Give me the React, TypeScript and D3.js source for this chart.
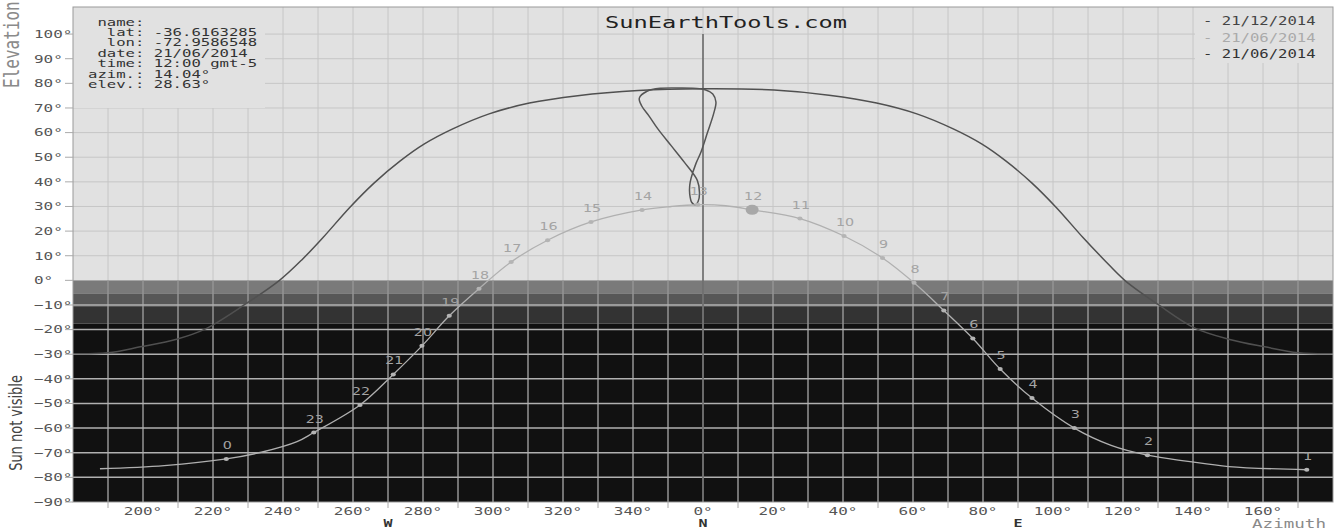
import * as d3 from 'd3'

type P = [number, number] // [azimuth relative to north (W negative), elevation]

// 21/12/2014 sun path
const decPath: P[] = [
  [-180, -29.8], [-170, -29.4], [-160.8, -27], [-150.4, -23.9], [-142.3, -19.8], [-130.8, -9.7],
  [-121, 0], [-114.5, 8.5], [-108.5, 17.5], [-101, 29.5], [-94, 39.5], [-86.5, 48.5], [-79.6, 55.4],
  [-71.5, 61.5], [-61.1, 67.6], [-49.6, 72], [-35.8, 75], [-18.5, 77.1], [0, 77.8], [20.3, 77.3],
  [36, 75.2], [49.6, 72], [61.1, 67.6], [71.5, 61.5], [79.6, 55.4], [86.5, 48.5], [94, 39.5],
  [101, 29.5], [108.5, 17.5], [114.5, 8.5], [120.5, 0], [130, -9.8], [140.4, -19.3], [150.5, -24],
  [160.5, -27], [170, -29.4], [180, -29.8]
]

// 21/06/2014 hourly sun positions
const hourLabels = ['0', '23', '22', '21', '20', '19', '18', '17', '16', '15', '14', '13',
  '12', '11', '10', '9', '8', '7', '6', '5', '4', '3', '2', '1']
const hourAz = [-136.2, -111.2, -98.0, -88.5, -80.3, -72.5, -64.0, -54.8, -44.4, -32.0, -17.4, -1.5,
  14.04, 27.7, 40.3, 51.3, 60.3, 68.8, 77.1, 84.9, 94.0, 106.1, 127.0, 172.5]
const hourEl = [-72.5, -61.8, -50.6, -38.2, -26.6, -14.4, -3.4, 7.5, 16.3, 23.7, 28.6, 30.7,
  28.63, 25.1, 18.0, 9.1, -1.0, -12.2, -23.6, -36.0, -47.8, -60.0, -71.0, -76.9]
// points read along the june line between the hour markers
const juneBetween: P[] = [
  [-172.3, -76.5], [-153.9, -75.2], [-126.2, -69.8], [-116, -65.5], [-9, 30.0], [6.5, 30.3],
  [116.6, -67.0], [138.6, -73.5], [150.2, -75.6]
]
const currentHour = '12'

// analemma (figure eight)
const analemma: P[] = [
  [-1, 77.8], [-6, 78.1], [-12, 78], [-16, 76.8], [-18.2, 74], [-17.5, 70.8], [-15.3, 66.5],
  [-12.9, 61.5], [-9.1, 54.7], [-5.3, 47.9], [-1.6, 40.5], [-1.0, 35.5], [-1.4, 32], [-2.2, 30.6],
  [-3.2, 31.6], [-3.8, 35], [-3.8, 38.5], [-3.4, 41.5], [-2.0, 47.5], [-0.6, 52], [1.3, 60.1],
  [3.0, 67.5], [3.7, 72.4], [2.8, 75.7], [0.8, 77.3]
]

const xTickAz = [-160, -140, -120, -100, -80, -60, -40, -20, 0, 20, 40, 60, 80, 100, 120, 140, 160]
const xTickLabels = ['200°', '220°', '240°', '260°', '280°', '300°', '320°', '340°', '0°',
  '20°', '40°', '60°', '80°', '100°', '120°', '140°', '160°']
const yTickValues = [-90, -80, -70, -60, -50, -40, -30, -20, -10, 0, 10, 20, 30, 40, 50, 60, 70, 80, 90, 100]
const yTickLabels = ['−90°', '−80°', '−70°', '−60°', '−50°', '−40°', '−30°', '−20°', '−10°', '0°',
  '10°', '20°', '30°', '40°', '50°', '60°', '70°', '80°', '90°', '100°']
const compass = [{ az: -90, label: 'W' }, { az: 0, label: 'N' }, { az: 90, label: 'E' }]

const infoLines = [' name:', '  lat: -36.6163285', '  lon: -72.9586548', ' date: 21/06/2014',
  ' time: 12:00 gmt-5', 'azim.: 14.04°', 'elev.: 28.63°']
const legendLabels = ['- 21/12/2014', '- 21/06/2014', '- 21/06/2014']
const legendColors = ['#444', '#aaa', '#333']

const MONO = "'DejaVu Sans Mono', monospace"
const SANS = "'DejaVu Sans', sans-serif"
const SX = 1.3 // the picture is stretched sideways

const bandEdges = [0, -5.5, -10.5, -17.5, -90]
const bandColors = ['#7a7a7a', '#575757', '#333333', '#111111']

export default function App() {
  const x = d3.scaleLinear().domain([-180, 180]).range([73, 1333])
  const y = d3.scaleLinear().domain([-90, 111]).range([502, 7])
  const top = 111

  const line = d3.line<P>().x(d => x(d[0])).y(d => y(d[1])).curve(d3.curveCatmullRom.alpha(0.5))
  const loop = d3.line<P>().x(d => x(d[0])).y(d => y(d[1])).curve(d3.curveCatmullRomClosed.alpha(0.5))

  const hours = hourLabels.map((h, i) => ({ h, az: hourAz[i], el: hourEl[i] }))
  const juneLine: P[] = [...hours.map(d => [d.az, d.el] as P), ...juneBetween].sort((a, b) => a[0] - b[0])

  const gridAz = d3.range(-170, 180, 10)
  const oddAz = d3.range(-170, 180, 20)

  return (
    <svg width={1336} height={531} style={{ position: 'absolute', left: 0, top: 0, background: '#fff' }}>
      <defs>
        <clipPath id="plot">
          <rect x={x(-180)} y={y(top)} width={x(180) - x(-180)} height={y(-90) - y(top)} />
        </clipPath>
      </defs>

      {/* sky and twilight bands */}
      <rect x={x(-180)} y={y(top)} width={x(180) - x(-180)} height={y(0) - y(top)} fill="#e1e1e1" />
      {bandColors.map((c, i) => (
        <rect key={i} x={x(-180)} y={y(bandEdges[i])} width={x(180) - x(-180)}
          height={y(bandEdges[i + 1]) - y(bandEdges[i])} fill={c} />
      ))}

      {/* grid, day side */}
      {gridAz.map(a => (
        <line key={'vl' + a} x1={x(a)} x2={x(a)} y1={y(top)} y2={y(0)} stroke="#c6c6c6" />
      ))}
      {d3.range(10, 101, 10).map(v => (
        <line key={'hl' + v} x1={x(-180)} x2={x(180)} y1={y(v)} y2={y(v)} stroke="#c6c6c6" />
      ))}
      {/* grid, night side */}
      {gridAz.map(a => (
        <line key={'vd' + a} x1={x(a)} x2={x(a)} y1={y(0)} y2={y(-90)} stroke="#959595" strokeWidth={1.5} />
      ))}
      {d3.range(-80, 0, 10).map(v => (
        <line key={'hd' + v} x1={x(-180)} x2={x(180)} y1={y(v)} y2={y(v)} stroke="#b0b0b0" strokeWidth={1.5} />
      ))}

      {/* north line */}
      <line x1={x(0)} x2={x(0)} y1={y(100)} y2={y(-90)} stroke="#6a6a6a" strokeWidth={1.6} />

      <g clipPath="url(#plot)" fill="none">
        <path d={line(decPath) || ''} stroke="#505050" strokeWidth={1.5} />
        <path d={loop(analemma) || ''} stroke="#555" strokeWidth={1.5} />
        <path d={line(juneLine) || ''} stroke="#b0b0b0" strokeWidth={1.3} />
      </g>

      {/* hour markers */}
      {hours.map(d => (
        <g key={'h' + d.h}>
          {d.h === currentHour
            ? <ellipse cx={x(d.az)} cy={y(d.el)} rx={6.5} ry={5} fill="#a8a8a8" />
            : <ellipse cx={x(d.az)} cy={y(d.el)} rx={2.6} ry={2} fill="#b4b4b4" />}
          <text transform={`translate(${x(d.az) + 1},${y(d.el) - 10}) scale(${SX},1)`}
            textAnchor="middle" fontFamily={SANS} fontSize={11} fill="#a4a4a4">{d.h}</text>
        </g>
      ))}

      {/* info box */}
      <rect x={x(-180)} y={y(top)} width={192} height={101} fill="#e1e1e1" />
      {infoLines.map((t, i) => (
        <text key={'i' + i} transform={`translate(88,${25.5 + i * 10.4}) scale(1.42,1)`}
          fontFamily={MONO} fontSize={11} fill="#333" style={{ whiteSpace: 'pre' }}>{t}</text>
      ))}

      {/* legend */}
      <rect x={1195} y={y(top)} width={x(180) - 1195} height={56} fill="#e1e1e1" />
      {legendLabels.map((t, i) => (
        <text key={'l' + i} transform={`translate(1203,${25 + i * 16.5}) scale(${SX},1)`}
          fontFamily={MONO} fontSize={12} fill={legendColors[i]}>{t}</text>
      ))}

      {/* title */}
      <text x={605} y={27.5} textLength={242} lengthAdjust="spacingAndGlyphs"
        fontFamily={MONO} fontSize={16} fill="#222">SunEarthTools.com</text>

      {/* frame */}
      <rect x={x(-180)} y={y(top)} width={x(180) - x(-180)} height={y(-90) - y(top)}
        fill="none" stroke="#999" />

      {/* y axis */}
      {yTickValues.map((v, i) => (
        <g key={'yt' + v}>
          <line x1={65} x2={x(-180)} y1={y(v)} y2={y(v)} stroke="#aaa" />
          <text transform={`translate(34,${y(v)}) scale(1.45,1)`} dy="0.35em"
            fontFamily={MONO} fontSize={11} fill="#555">{yTickLabels[i]}</text>
        </g>
      ))}

      {/* x axis */}
      {oddAz.map(a => (
        <line key={'xt' + a} x1={x(a)} x2={x(a)} y1={y(-90)} y2={y(-90) + 6} stroke="#aaa" />
      ))}
      {xTickAz.map((a, i) => (
        <text key={'xl' + a} transform={`translate(${x(a)},515) scale(1.45,1)`} textAnchor="middle"
          fontFamily={MONO} fontSize={11} fill="#555">{xTickLabels[i]}</text>
      ))}
      {compass.map(c => (
        <text key={c.label} transform={`translate(${x(c.az)},527) scale(1.5,1)`} textAnchor="middle"
          fontFamily={MONO} fontSize={10} fontWeight="bold" fill="#333">{c.label}</text>
      ))}

      <text transform={`translate(1326,527.5) scale(1.35,1)`} textAnchor="end"
        fontFamily={MONO} fontSize={13} fill="#8a8a8a">Azimuth</text>
      <text transform={`translate(19,88) scale(${SX},1) rotate(-90)`}
        fontFamily={MONO} fontSize={16} fill="#8a8a8a">Elevation</text>
      <text transform={`translate(22,423) scale(${SX},1) rotate(-90)`} textAnchor="middle"
        fontFamily={SANS} fontSize={13} fill="#444">Sun not visible</text>
    </svg>
  )
}
